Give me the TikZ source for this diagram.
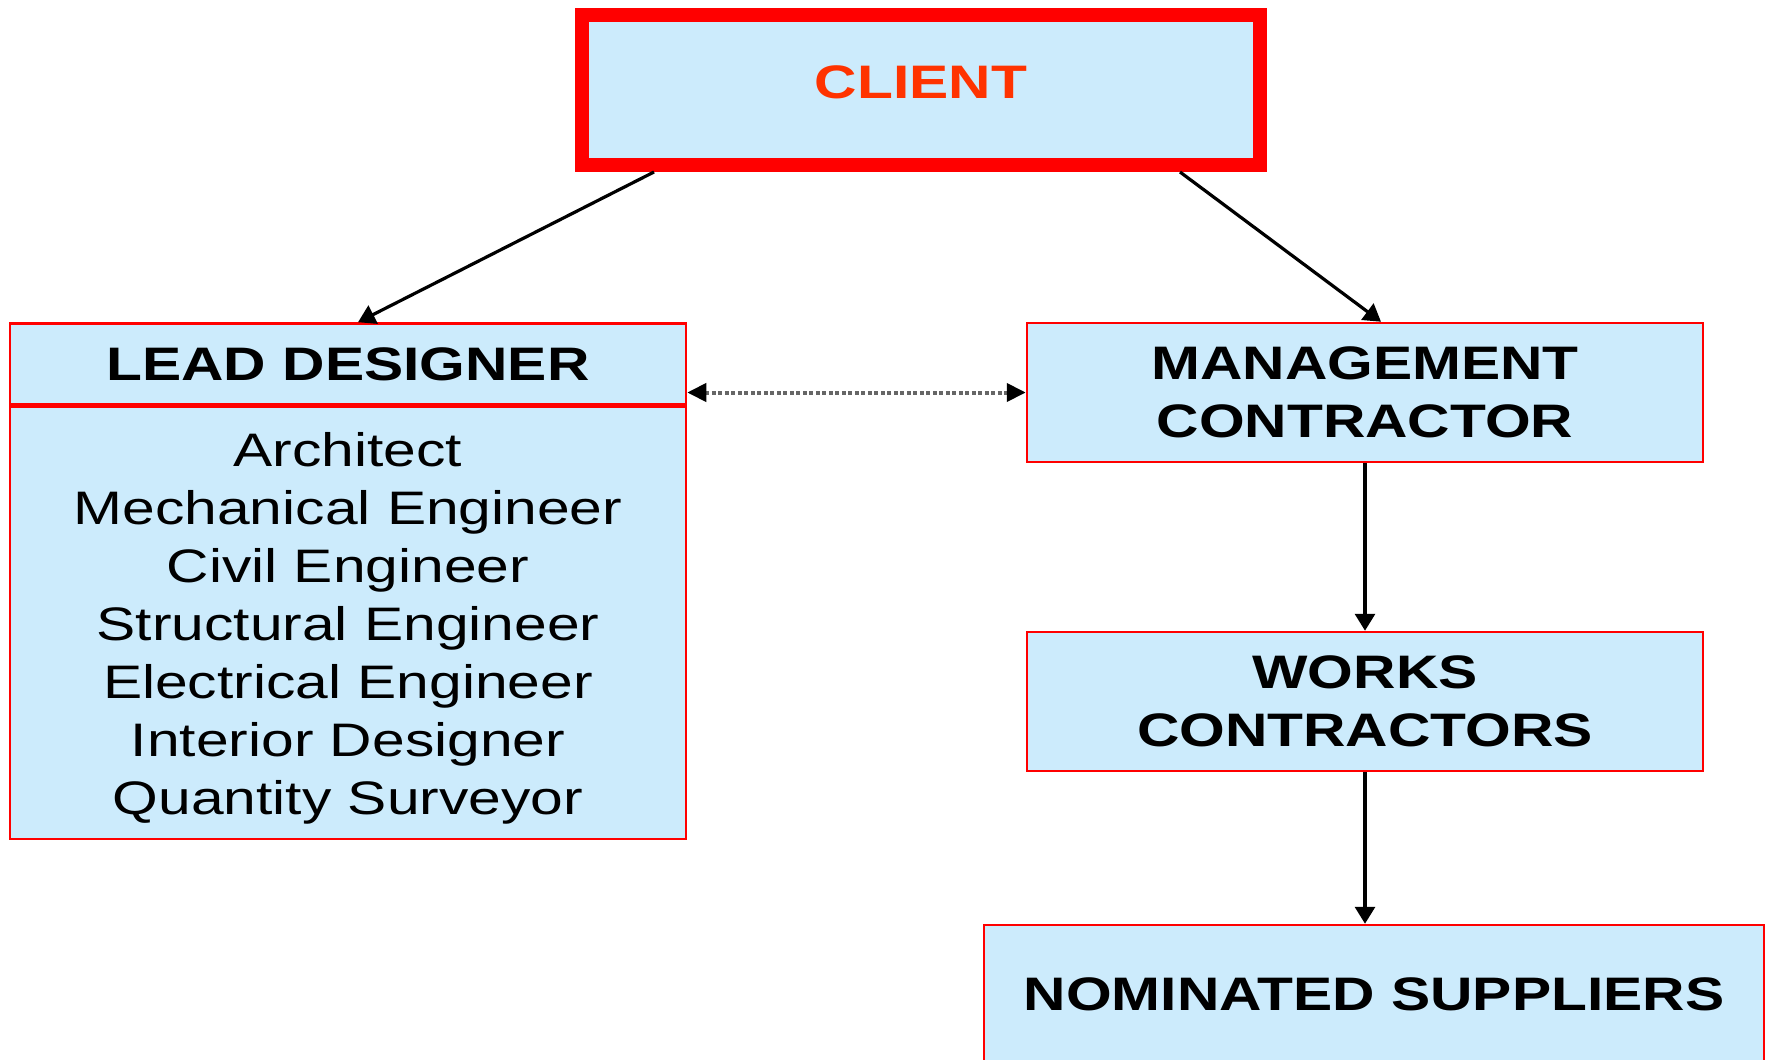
\documentclass[tikz,border=0pt]{standalone}
\usepackage{fontspec}
\setmainfont[FakeStretch=1.25]{Liberation Sans}
\usepackage{tikz}
\usetikzlibrary{arrows.meta}
\definecolor{boxblue}{HTML}{CCEBFC}
\definecolor{clientred}{HTML}{FF3300}
\tikzstyle{orgbox} = [draw=red, fill=boxblue, line width=2.5pt,
    rectangle, inner sep=0pt, minimum width=676pt, minimum height=139pt,
    align=center, text depth=0pt, font=\fontsize{47}{58}\selectfont\bfseries]
\tikzstyle{clientbox} = [orgbox, line width=14pt, minimum width=678pt,
    minimum height=150pt, text=clientred, text depth=15pt]
\tikzstyle{link} = [draw=black, line width=3.2pt, -{Triangle[length=17pt, width=20pt]}]
\tikzstyle{peerlink} = [draw=black!60, line width=4pt, dash pattern=on 4pt off 2.5pt,
    {Triangle[length=19pt, width=18pt, color=black]}-{Triangle[length=19pt, width=18pt, color=black]}]

\begin{document}
\begin{tikzpicture}[x=1pt, y=-1pt]
                \useasboundingbox (0,0) rectangle (1767,1060);
                \node [clientbox] (client) at (921,90) {CLIENT};
                \node [orgbox, minimum height=81pt] (lead) at (348,364) {LEAD DESIGNER};
                \node [orgbox, minimum height=432pt, font=\fontsize{47}{58}\selectfont] (leadlist) at (348,623) {%
                    Architect\\
                    Mechanical Engineer\\
                    Civil Engineer\\
                    Structural Engineer\\
                    Electrical Engineer\\
                    Interior Designer\\
                    Quantity Surveyor};
                \node [orgbox] (manager) at (1365,392.5) {MANAGEMENT\\CONTRACTOR};
                \node [orgbox] (works) at (1365,701.5) {WORKS\\CONTRACTORS};
                \node [orgbox, minimum width=780pt, minimum height=138pt] (suppliers) at (1374,994) {NOMINATED SUPPLIERS};

                \draw [link] ([xshift=79pt]client.south west) -- ([xshift=10pt]lead.north);
                \draw [link] ([xshift=-87pt]client.south east) -- ([xshift=16pt]manager.north);
                \draw [peerlink] (lead.east |- manager.west) -- (manager.west);
                \draw [link] (manager.south) -- (works.north);
                \draw [link] (works.south) -- (works.south |- suppliers.north);
            \end{tikzpicture}
\end{document}
